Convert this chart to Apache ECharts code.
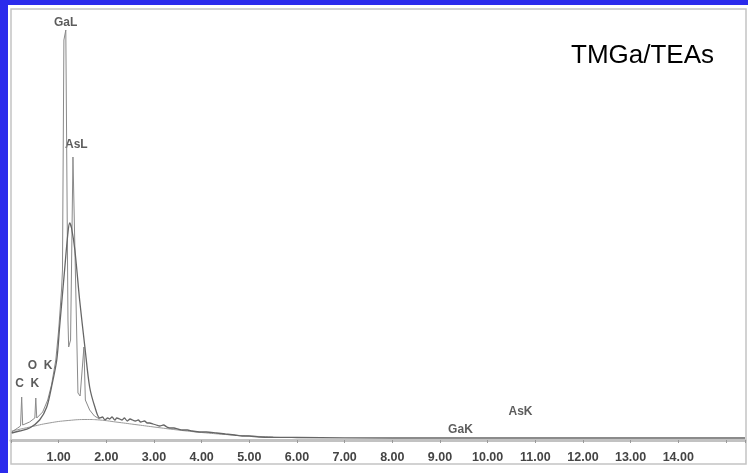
<!DOCTYPE html>
<html>
<head>
<meta charset="utf-8">
<script src="https://cdn.jsdelivr.net/npm/echarts@6/dist/echarts.min.js"></script>
<style>
html,body{margin:0;padding:0;background:#2b2bec;}
#c{width:748px;height:473px;}
</style>
</head>
<body>
<div id="c"></div>
<script>
// X tick labels (keV)
const tickLabels = ['1.00','2.00','3.00','4.00','5.00','6.00','7.00','8.00','9.00','10.00','11.00','12.00','13.00','14.00'];

// Sharp (raw) spectrum: energy (keV) and counts (arbitrary units)
const sharpE = [0.015,0.14,0.20,0.224,0.245,0.39,0.50,0.52,0.54,0.665,0.77,0.85,0.94,1.00,1.06,1.08,1.11,1.15,1.195,1.21,1.25,1.30,1.33,1.405,1.45,1.53,1.56,1.65,1.75,1.86];
const sharpC = [8,12,14,43,15,18,22,42,22,28,40,55,80,110,150,170,400,410,120,93,100,283,285,47,44,93,40,30,24,21];

// Broad (smoothed) spectrum
const broadE = [0.015,0.18,0.39,0.60,0.75,0.85,0.96,1.02,1.13,1.19,1.23,1.27,1.34,1.44,1.55,1.65,1.76,1.86,1.92,1.97,2.03,2.07,2.12,2.18,2.22,2.28,2.33,2.38,2.44,2.50,2.55,2.61,2.67,2.72,2.80,2.86,2.91,2.98,3.05,3.12,3.20,3.27,3.33,3.42,3.50,3.60,3.70,3.80,3.96,4.10,4.31,4.50,4.69,4.85,5.00,5.20,6.00,8.00,10.00,12.00,14.00,15.40];
const broadC = [7,9,12,20,33,53,80,113,173,205,217,212,190,140,93,53,33,22,23,20,22,21,23,20,22,21,20,22,19,21,20,19,20,18,19,17,17,16,15,14,15,13,12,12,11,10,10,9,8,8,7,6,5,4,4,3,2.5,2,2,2,2,2];

// Background continuum
const bgE = [0.015,0.4,0.8,1.2,1.6,1.86,2.2,2.6,3.0,3.5,4.0,4.5,5.0,5.5];
const bgC = [9,13,17,19.5,20.5,20,18,15.5,13,10,7.5,5.5,4,3];

// Peak labels
const peakNames = ['C  K','O  K','GaL','AsL','GaK','AsK'];
const peakE = [0.34,0.61,1.147,1.37,9.43,10.69];
const peakC = [56,74,417,295,10,28];

const zip = (a,b) => a.map((v,i) => [v,b[i]]);

const chart = echarts.init(document.getElementById('c'), null, {renderer:'canvas'});
chart.setOption({
  animation:false,
  backgroundColor:'#2b2bec',
  graphic:[
    {type:'rect', z:-10, shape:{x:8,y:5,width:740,height:468}, style:{fill:'#ffffff'}},
    {type:'rect', z:-9, shape:{x:11,y:9,width:735,height:455}, style:{fill:'none', stroke:'#c4c4c4', lineWidth:1.5}},
    {type:'text', left:571, top:43, style:{text:'TMGa/TEAs', font:'26px "Liberation Sans", Arial, sans-serif', fill:'#000'}}
  ],
  grid:{left:11, right:2, top:10, bottom:33},
  xAxis:{
    type:'value', min:0, max:15.4, interval:1,
    axisLine:{show:true, lineStyle:{color:'#c2c2c2', width:3}},
    axisTick:{show:true, length:3, lineStyle:{color:'#999', width:1}},
    splitLine:{show:false},
    axisLabel:{
      margin:11, color:'#444', fontWeight:'bold', fontSize:12.5,
      fontFamily:'"Liberation Sans", Arial, sans-serif',
      formatter:(v) => (Number.isInteger(v) && v>=1 && v<=14) ? tickLabels[v-1] : ''
    }
  },
  yAxis:{type:'value', min:0, max:430, show:false, splitLine:{show:false}},
  series:[
    {type:'line', data:zip(bgE,bgC), showSymbol:false, smooth:true, lineStyle:{color:'#9a9a9a', width:1}},
    {type:'line', data:zip(sharpE,sharpC), showSymbol:false, lineStyle:{color:'#8a8a8a', width:1}},
    {type:'line', data:zip(broadE,broadC), showSymbol:false, smooth:0.3, lineStyle:{color:'#666', width:1.3}},
    {type:'scatter', data:zip(peakE,peakC), symbolSize:0, clip:false,
     label:{show:true, position:'inside', color:'#333', fontWeight:'bold', fontSize:12,
            fontFamily:'"Liberation Sans", Arial, sans-serif',
            formatter:(p) => peakNames[p.dataIndex]}}
  ]
});
</script>
</body>
</html>
